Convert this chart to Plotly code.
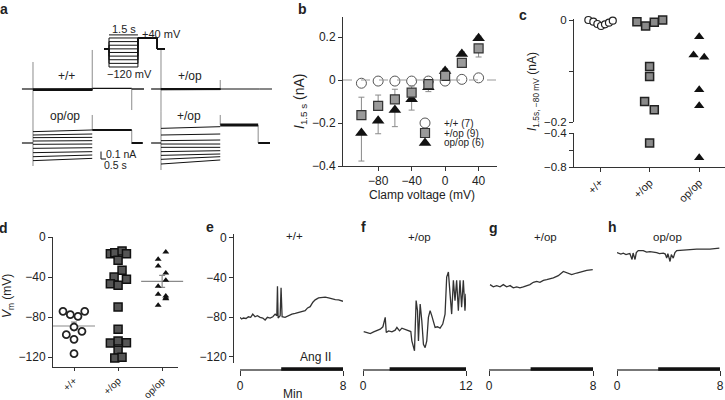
import plotly.graph_objects as go

W, H = 725, 400
FONT = "Liberation Sans, Arial, sans-serif"
INK = "#222222"

# ================= DATA =================
# --- a: voltage protocol (mV, s)
proto_levels = [-120, -100, -80, -60, -40, -20, 0, 20, 40]
proto_hold = -20
proto_tail_v = 40
t_step = 1.5
t_tail = 2.5

# --- a: currents (nA) at step onset / step end for each voltage level
wt_start = [0.0, -0.003, -0.006, -0.009, -0.012, -0.015, -0.018, -0.021, -0.025]
wt_end = [0.002, -0.002, -0.005, -0.008, -0.011, -0.014, -0.017, -0.02, -0.023]
wt_tail = 0.01
wt_art_t = [0, 1.5, 2.5]
wt_art_hi = [0.45, 0.65, 0.01]
wt_art_lo = [-0.30, 0.0, -0.35]

hetA_start = [0.005, 0.003, 0.0, -0.002, -0.004, -0.006, -0.008, -0.01, -0.012]
hetA_end = [0.004, 0.002, 0.0, -0.002, -0.003, -0.005, -0.006, -0.008, -0.01]
hetA_tail = 0.0
hetA_art_t = [0, 1.5]
hetA_art_hi = [0.65, 0.15]
hetA_art_lo = [-0.38, 0.0]

hom_start = [0.189, 0.133, 0.089, 0.033, -0.022, -0.089, -0.161, -0.228, -0.294]
hom_end = [0.217, 0.15, 0.094, 0.039, -0.017, -0.078, -0.144, -0.2, -0.256]
hom_tail = 0.217
hom_art_t = [0, 1.5, 2.5]
hom_art_hi = [0.6, 0.467, 0.217]
hom_art_lo = [-0.383, 0.217, -0.017]

hetB_start = [0.244, 0.133, 0.039, -0.017, -0.072, -0.144, -0.206, -0.272, -0.35]
hetB_end = [0.272, 0.15, 0.05, -0.017, -0.072, -0.128, -0.183, -0.228, -0.283]
hetB_tail = 0.3
hetB_art_t = [0, 1.5, 2.46]
hetB_art_hi = [0.52, 0.467, 0.3]
hetB_art_lo = [-0.45, 0.3, 0.0]

# --- b: I(1.5 s) vs clamp voltage
b_volt = [-100, -80, -60, -40, -20, 0, 20, 40]
b_wt = [-0.015, -0.005, -0.005, -0.005, -0.005, -0.005, 0.003, 0.01]
b_het = [-0.163, -0.12, -0.09, -0.059, -0.019, 0.019, 0.08, 0.147]
b_het_err = [0.083, 0.05, 0.047, 0.031, 0.01, 0.01, 0.02, 0.04]
b_hom = [-0.247, -0.19, -0.14, -0.09, -0.034, 0.042, 0.121, 0.194]
b_hom_err = [0.13, 0.06, 0.077, 0.05, 0.02, 0.01, 0.01, 0.01]
b_legend = ["+/+ (7)", "+/op (9)", "op/op (6)"]

# --- c: I(1.5 s, -80 mV) per cell
genotypes = ["+/+", "+/op", "op/op"]
c_wt_dx = [-0.236, -0.135, -0.054, 0.02, 0.1, 0.18, 0.257]
c_wt_v = [0.0, -0.0033, -0.0078, -0.0117, -0.0085, -0.0052, -0.0013]
c_het_dx = [-0.256, -0.081, 0.094, 0.263, 0.0, 0.0, -0.101, 0.094, 0.0]
c_het_v = [-0.0033, -0.0117, -0.0046, 0.0, -0.0912, -0.1107, -0.1596, -0.1759, -0.518]
c_hom_dx = [0.0, -0.114, 0.101, 0.0, 0.0, 0.0]
c_hom_v = [-0.0326, -0.0684, -0.073, -0.1368, -0.168, -0.69]

# --- d: resting Vm per cell
d_wt_dx = [-0.25, -0.084, 0.09, 0.243, 0.0, -0.175, 0.18, 0.0, 0.0]
d_wt_v = [-74.3, -77.7, -79.3, -74.3, -90, -97.7, -94.3, -102.3, -116.7]
d_het_dx = [-0.175, -0.075, 0.09, 0.19, 0, 0.09, -0.09, 0.19, -0.175, 0, 0, 0, -0.175, 0, 0.19, 0, -0.075, 0.09]
d_het_v = [-16.7, -15.7, -14, -16.7, -23.3, -33.3, -40, -42.3, -46.7, -48.3, -70, -92.3, -106, -104, -105.7, -113.3, -121, -120.3]
d_hom_dx = [0.083, -0.09, -0.09, 0.083, 0.083, -0.09, -0.09, 0.083, 0.083, -0.09, 0.083]
d_hom_v = [-15, -22.3, -29, -36, -43.3, -49.3, -57.3, -59, -61.7, -68.3, -61]
d_mean_cat = [0, 2]
d_mean_v = [-89, -44.3]
d_sem_v = [4, 6]

# --- e-h: Vm recordings (min, mV)
e_t = [0, 0.13, 0.26, 0.47, 0.65, 0.83, 0.99, 1.17, 1.35, 1.56, 1.77, 1.95, 2.13, 2.34, 2.55, 2.73, 2.86, 2.91, 2.96, 3.12,
       3.19, 3.27, 3.5, 3.77, 4.03, 4.29, 4.55, 4.81, 5.06, 5.25, 5.45, 5.66, 5.84, 6.1, 6.36, 6.62, 6.88, 7.14, 7.4, 7.66, 8.0]
e_v = [-80.3, -82, -81, -81.4, -79.7, -80.3, -77, -79.7, -78.6, -80.3, -81, -83, -80.3, -81, -79.7, -77, -78.6, -49, -81, -78.6,
       -50.5, -79.7, -80.3, -78.6, -77, -76.3, -75.3, -74.6, -73.6, -70.8, -69.5, -65.1, -62.7, -60.7, -60, -60, -60.7, -61.7, -62.4, -62.7, -64.1]
f_t = [0.08, 0.46, 0.85, 1.24, 1.63, 2.01, 2.32, 2.59, 2.71, 2.98, 3.37, 3.75, 3.95, 4.26, 4.53, 4.92, 5.3, 5.57, 5.69, 5.88,
       6.0, 6.19, 6.35, 6.46, 6.66, 6.85, 7.04, 7.24, 7.43, 7.62, 7.82, 8.01, 8.2, 8.4, 8.67, 8.98, 9.29, 9.56, 9.75, 9.95,
       10.14, 10.33, 10.53, 10.72, 10.91, 11.11, 11.3, 11.49, 11.69, 11.88, 12.0]
f_v = [-94.6, -95.6, -96.6, -94.9, -93.9, -92.2, -89.8, -80.3, -95.6, -93.9, -94.9, -93.2, -90.5, -93.9, -91.2, -92.2, -93.2, -94.6, -104, -110.8,
       -114, -63.4, -73.6, -104, -66.8, -83.7, -107.5, -110.8, -104, -80.3, -73.6, -78.6, -83.7, -90.5, -89.8, -91.2, -87.1, -77, -39.7, -34.6,
       -56.6, -77, -43, -63.4, -43, -73.6, -43, -70.2, -43, -73.6, -56.6]
g_t = [0.08, 0.33, 0.59, 0.85, 1.1, 1.36, 1.62, 1.87, 2.13, 2.38, 2.64, 2.9, 3.15, 3.41, 3.67, 3.92, 4.18, 4.44, 4.69, 4.95,
       5.21, 5.33, 5.72, 5.98, 6.36, 6.75, 7.13, 7.52, 7.98]
g_v = [-47.3, -49.6, -48.3, -49.6, -47.3, -49.6, -48.3, -50.6, -49.6, -50.6, -49.6, -48.3, -47.3, -45, -44, -45, -43, -42.3, -41.6, -40.6,
       -39, -38.3, -34, -35.6, -37.3, -35.6, -34, -33, -32.3]
h_t = [0, 0.3, 0.49, 0.7, 0.88, 1.0, 1.17, 1.25, 1.4, 1.5, 1.65, 2.04, 2.3, 2.56, 3.08, 3.3, 3.6, 3.75, 3.86, 3.95,
       4.12, 4.22, 4.37, 4.5, 4.64, 5.15, 5.67, 6.19, 6.7, 7.22, 7.95]
h_v = [-15, -16.5, -15.6, -17, -16.3, -16, -22, -15.5, -22, -15, -13, -13, -14.5, -14, -15, -16, -15.6, -16.5, -20.6, -16,
       -24, -17, -20.6, -15, -13, -12.3, -12.3, -11.6, -11.6, -11.6, -10.6]
rec_titles = ["+/+", "+/op", "+/op", "op/op"]
rec_len = [8, 12, 8, 8]
angii_on = [3.2, 3.1, 3.2, 3.2]

# ================= HELPERS =================
def dxr(x0, x1):
    return [x0 / W, x1 / W]

def dyr(y0, y1):
    return [1 - y1 / H, 1 - y0 / H]

def px(x):
    return x / W

def py(y):
    return 1 - y / H

fig = go.Figure()
annotations = []
shapes = []

def txt(x, y, s, size=12, bold=False, angle=0, xanchor="center", color=INK):
    annotations.append(dict(x=px(x), y=py(y), xref="paper", yref="paper",
                            text=f"<b>{s}</b>" if bold else s, showarrow=False,
                            font=dict(size=size, color=color, family=FONT),
                            textangle=angle, xanchor=xanchor, yanchor="middle"))

def hidden(dom, rng, anchor):
    return dict(domain=dom, range=rng, anchor=anchor, visible=False, fixedrange=True, automargin=False)

def vis(**kw):
    d = dict(showline=True, linecolor="#333", linewidth=1, ticks="outside", ticklen=4,
             tickwidth=1, tickcolor="#333", showgrid=False, zeroline=False, automargin=False,
             tickfont=dict(size=12, color=INK, family=FONT), fixedrange=True)
    d.update(kw)
    return d

def line(xa, ya, x, y, color="#111", width=1, dash=None):
    fig.add_trace(go.Scatter(x=x, y=y, xaxis=xa, yaxis=ya, mode="lines",
                             line=dict(color=color, width=width, dash=dash),
                             hoverinfo="skip", cliponaxis=False))

# ================= PANEL a =================
for lv in proto_levels:
    line("x", "y", [-0.26, 0, 0, t_step, t_step, t_tail, t_tail, 2.9],
         [proto_hold, proto_hold, lv, lv, proto_tail_v, proto_tail_v, proto_hold, proto_hold], width=1)
shapes.append(dict(type="line", xref="x", yref="y", x0=0, x1=t_step, y0=57, y1=57,
                   line=dict(color="#111", width=1)))

def current_panel(n, starts, ends, tail, art_t, art_hi, art_lo, t_pre, t_tail_end, t_end, step_w, tail_w, post_w):
    xa, ya = f"x{n}", f"y{n}"
    ax, ay = [], []
    for t, hi, lo in zip(art_t, art_hi, art_lo):
        ax += [t, t, None]
        ay += [hi, lo, None]
    line(xa, ya, ax, ay, color="#8c8c8c", width=1)
    line(xa, ya, [t_pre, 0], [0, 0], width=1.2)
    sx, sy = [], []
    for s, e in zip(starts, ends):
        sx += [0, t_step, None]
        sy += [s, e, None]
    line(xa, ya, sx, sy, width=step_w)
    line(xa, ya, [t_step, t_tail_end], [tail, tail], width=tail_w)
    line(xa, ya, [t_tail_end, t_end], [0, 0], width=post_w)

current_panel(2, wt_start, wt_end, wt_tail, wt_art_t, wt_art_hi, wt_art_lo, -0.28, 2.5, 2.81, 1.2, 1.4, 1.4)
current_panel(3, hetA_start, hetA_end, hetA_tail, hetA_art_t, hetA_art_hi, hetA_art_lo, -0.25, 2.5, 2.81, 1.0, 1.0, 1.0)
current_panel(4, hom_start, hom_end, hom_tail, hom_art_t, hom_art_hi, hom_art_lo, -0.28, 2.5, 2.78, 1.0, 2.2, 2.0)
current_panel(5, hetB_start, hetB_end, hetB_tail, hetB_art_t, hetB_art_hi, hetB_art_lo, -0.25, 2.46, 2.76, 1.0, 2.8, 2.0)

shapes.append(dict(type="path", xref="paper", yref="paper",
                   path=f"M {px(101)} {py(151.5)} L {px(101)} {py(159)} L {px(106)} {py(159)}",
                   line=dict(color="#111", width=1)))
txt(104, 154, "0.1 nA", size=10.5, xanchor="left")
txt(102, 165, "0.5 s", size=10.5, xanchor="left")
txt(124, 29, "1.5 s", size=11)
txt(161, 34, "+40 mV", size=11)
txt(129, 74, "\u2212120 mV", size=11)
txt(66, 76, "+/+", size=12)
txt(190, 76, "+/op", size=12)
txt(65, 116, "op/op", size=12)
txt(189, 116, "+/op", size=12)

# ================= PANEL b =================
shapes.append(dict(type="line", xref="x6 domain", yref="y6", x0=0, x1=1, y0=0, y1=0,
                   line=dict(color="#9a9a9a", width=1, dash="dash")))
ERR = dict(type="data", symmetric=False, color="#8a8a8a", thickness=1, width=3)
fig.add_trace(go.Scatter(x=b_volt, y=b_wt, xaxis="x6", yaxis="y6", mode="markers",
                         marker=dict(symbol="circle", size=10, color="white", line=dict(color="#555", width=1)),
                         cliponaxis=False, hoverinfo="skip"))
fig.add_trace(go.Scatter(x=b_volt, y=b_hom, xaxis="x6", yaxis="y6", mode="markers",
                         marker=dict(symbol="triangle-up", size=11, color="#111", line=dict(width=0)),
                         error_y=dict(ERR, array=[e if v > 0 else 0 for v, e in zip(b_hom, b_hom_err)],
                                      arrayminus=[e if v < 0 else 0 for v, e in zip(b_hom, b_hom_err)]),
                         cliponaxis=False, hoverinfo="skip"))
fig.add_trace(go.Scatter(x=b_volt, y=b_het, xaxis="x6", yaxis="y6", mode="markers",
                         marker=dict(symbol="square", size=9, color="#9a9a9a", line=dict(color="#333", width=1.2)),
                         error_y=dict(ERR, array=[e if v < 0 else 0 for v, e in zip(b_het, b_het_err)],
                                      arrayminus=[e if v > 0 else 0 for v, e in zip(b_het, b_het_err)]),
                         cliponaxis=False, hoverinfo="skip"))
leg_y = [-0.2, -0.2465, -0.293]
leg_sym = [dict(symbol="circle", size=10, color="white", line=dict(color="#555", width=1)),
           dict(symbol="square", size=9, color="#9a9a9a", line=dict(color="#333", width=1.2)),
           dict(symbol="triangle-up", size=11, color="#111", line=dict(width=0))]
for yy, m, lab in zip(leg_y, leg_sym, b_legend):
    fig.add_trace(go.Scatter(x=[-24], y=[yy], xaxis="x6", yaxis="y6", mode="markers", marker=m,
                             cliponaxis=False, hoverinfo="skip"))
    annotations.append(dict(x=-4, y=yy, xref="x6", yref="y6", text=lab, showarrow=False,
                            xanchor="left", yanchor="middle", font=dict(size=10, color=INK, family=FONT)))
txt(422, 195, "Clamp voltage (mV)", size=12)
txt(300, 102, "<i>I</i><sub>1.5 s</sub> (nA)", size=14, angle=-90)

# ================= PANEL c =================
def split_plot(dxs, vs, cat, marker):
    up = [(cat + d, v) for d, v in zip(dxs, vs) if v >= -0.2]
    lo = [(cat + d, v) for d, v in zip(dxs, vs) if v < -0.2]
    for pts, ya in ((up, "y7"), (lo, "y8")):
        if pts:
            fig.add_trace(go.Scatter(x=[p[0] for p in pts], y=[p[1] for p in pts], xaxis="x7", yaxis=ya,
                                     mode="markers", marker=marker, cliponaxis=False, hoverinfo="skip"))

split_plot(c_wt_dx, c_wt_v, 0, dict(symbol="circle", size=7, color="white", line=dict(color="#222", width=1.2)))
split_plot(c_het_dx, c_het_v, 1, dict(symbol="square", size=8, color="#8a8a8a", line=dict(color="#222", width=1.5)))
split_plot(c_hom_dx, c_hom_v, 2, dict(symbol="triangle-up", size=9, color="#111", line=dict(width=0)))
txt(533, 92, "<i>I</i><sub>1.5s, \u221280 mV</sub> (nA)", size=12, angle=-90)

# ================= PANEL d =================
def dots(dxs, vs, cat, marker):
    fig.add_trace(go.Scatter(x=[cat + d for d in dxs], y=vs, xaxis="x8", yaxis="y9", mode="markers",
                             marker=marker, cliponaxis=False, hoverinfo="skip"))

fig.add_trace(go.Scatter(x=d_mean_cat, y=d_mean_v, xaxis="x8", yaxis="y9", mode="markers",
                         marker=dict(symbol="line-ew", size=30, line=dict(color="#8a8a8a", width=1.2)),
                         error_y=dict(type="data", array=d_sem_v, color="#8a8a8a", thickness=1.2, width=3),
                         cliponaxis=False, hoverinfo="skip"))
dots(d_wt_dx, d_wt_v, 0, dict(symbol="circle", size=7, color="white", line=dict(color="#222", width=1.8)))
dots(d_het_dx, d_het_v, 1, dict(symbol="square", size=8, color="#555", line=dict(color="#111", width=1.5)))
dots(d_hom_dx, d_hom_v, 2, dict(symbol="triangle-up", size=6, color="#111", line=dict(width=0)))
txt(8, 296, "<i>V</i><sub>m</sub> (mV)", size=12, angle=-90)

# ================= PANELS e-h =================
rec_data = [(e_t, e_v), (f_t, f_v), (g_t, g_v), (h_t, h_v)]
rec_x = [(240, 343), (363, 466), (489, 593), (617, 720)]
rec_lab = [(294, 236), (419, 237), (545, 237), (667, 237)]
for i, ((tt, vv), (x0, x1), (lx, ly), ttl, L, on) in enumerate(zip(rec_data, rec_x, rec_lab, rec_titles, rec_len, angii_on)):
    n = 9 + i
    fig.add_trace(go.Scatter(x=tt, y=vv, xaxis=f"x{n}", yaxis=f"y{n + 1}", mode="lines",
                             line=dict(color="#333", width=1.3), cliponaxis=False, hoverinfo="skip"))
    shapes.append(dict(type="line", xref=f"x{n}", yref="paper", x0=on, x1=L, y0=py(369), y1=py(369),
                       line=dict(color="#111", width=3.5)))
    txt(lx, ly, ttl, size=11.5)
txt(315, 357, "Ang II", size=12)
txt(292, 394, "Min", size=12)

for s, (x, y) in zip("abcdefgh", [(4, 9), (302, 9), (523, 15), (4, 228), (210, 227), (364, 227), (493, 228), (612, 227)]):
    txt(x, y, s, size=14, bold=True)

# ================= LAYOUT =================
layout = dict(template="none", width=W, height=H, margin=dict(l=0, r=0, t=0, b=0, pad=0), autosize=False,
              paper_bgcolor="white", plot_bgcolor="rgba(0,0,0,0)", showlegend=False,
              font=dict(family=FONT, size=12, color=INK),
              annotations=annotations, shapes=shapes)
layout["xaxis"] = hidden(dxr(104, 168), [-0.26, 3.06], "y")
layout["yaxis"] = hidden(dyr(30, 70), [-136.6, 84], "x")
for n, (xd, yd) in zip([2, 3, 4, 5], [((20, 146), (45, 118)), ((148, 274), (45, 118)),
                                      ((20, 146), (99, 172)), ((148, 274), (99, 172))]):
    layout[f"xaxis{n}"] = hidden(dxr(*xd), [-0.329, 2.861], f"y{n}")
    layout[f"yaxis{n}"] = hidden(dyr(*yd), [-0.483, 0.733], f"x{n}")

layout["xaxis6"] = vis(domain=dxr(343, 497), range=[-122, 62], anchor="y6", tickvals=[-80, -40, 0, 40])
layout["yaxis6"] = vis(domain=dyr(17, 166), range=[-0.4, 0.293], anchor="x6", tickvals=[0.2, 0, -0.2, -0.4])

layout["xaxis7"] = vis(domain=dxr(574, 725), range=[-0.525, 2.52], anchor="y8", tickvals=[0, 1, 2],
                       ticktext=genotypes, tickangle=-45, tickfont=dict(size=11, color=INK, family=FONT))
layout["yaxis7"] = vis(domain=dyr(19, 122), range=[-0.2, 0.002], anchor="x7", tickvals=[0, -0.1, -0.2],
                       ticktext=["0", "", "\u22120.2"], tickfont=dict(size=11.5, color=INK, family=FONT))
layout["yaxis8"] = vis(domain=dyr(133, 167), range=[-0.8, -0.4], anchor="x7", tickvals=[-0.4, -0.6, -0.8],
                       ticktext=["\u22120.4", "", "\u22120.8"], tickfont=dict(size=11.5, color=INK, family=FONT))

layout["xaxis8"] = vis(domain=dxr(53, 178), range=[-0.477, 2.36], anchor="y9", tickvals=[0, 1, 2],
                       ticktext=genotypes, tickangle=-45, ticklen=3, tickfont=dict(size=10, color=INK, family=FONT))
layout["yaxis9"] = vis(domain=dyr(237, 367), range=[-130, 0], anchor="x8", tickvals=[0, -40, -80, -120])

for i, ((x0, x1), L) in enumerate(zip(rec_x, rec_len)):
    n = 9 + i
    layout[f"xaxis{n}"] = vis(domain=dxr(x0, x1), range=[0, L], anchor="free", position=py(369),
                              tickvals=[0, L], ticklen=5, linecolor="#777", linewidth=1.5)
    if i == 0:
        layout[f"yaxis{n + 1}"] = vis(domain=dyr(234, 363), range=[-126.3, 3.7], anchor="free",
                                      position=px(233), tickvals=[0, -40, -80, -120])
    else:
        layout[f"yaxis{n + 1}"] = hidden(dyr(234, 363), [-126.3, 3.7], f"x{n}")

fig.update_layout(**layout)
fig.write_html("out.html", config={"displayModeBar": False, "staticPlot": True},
               post_script="document.body.style.margin='0px';document.body.style.overflow='hidden';")
